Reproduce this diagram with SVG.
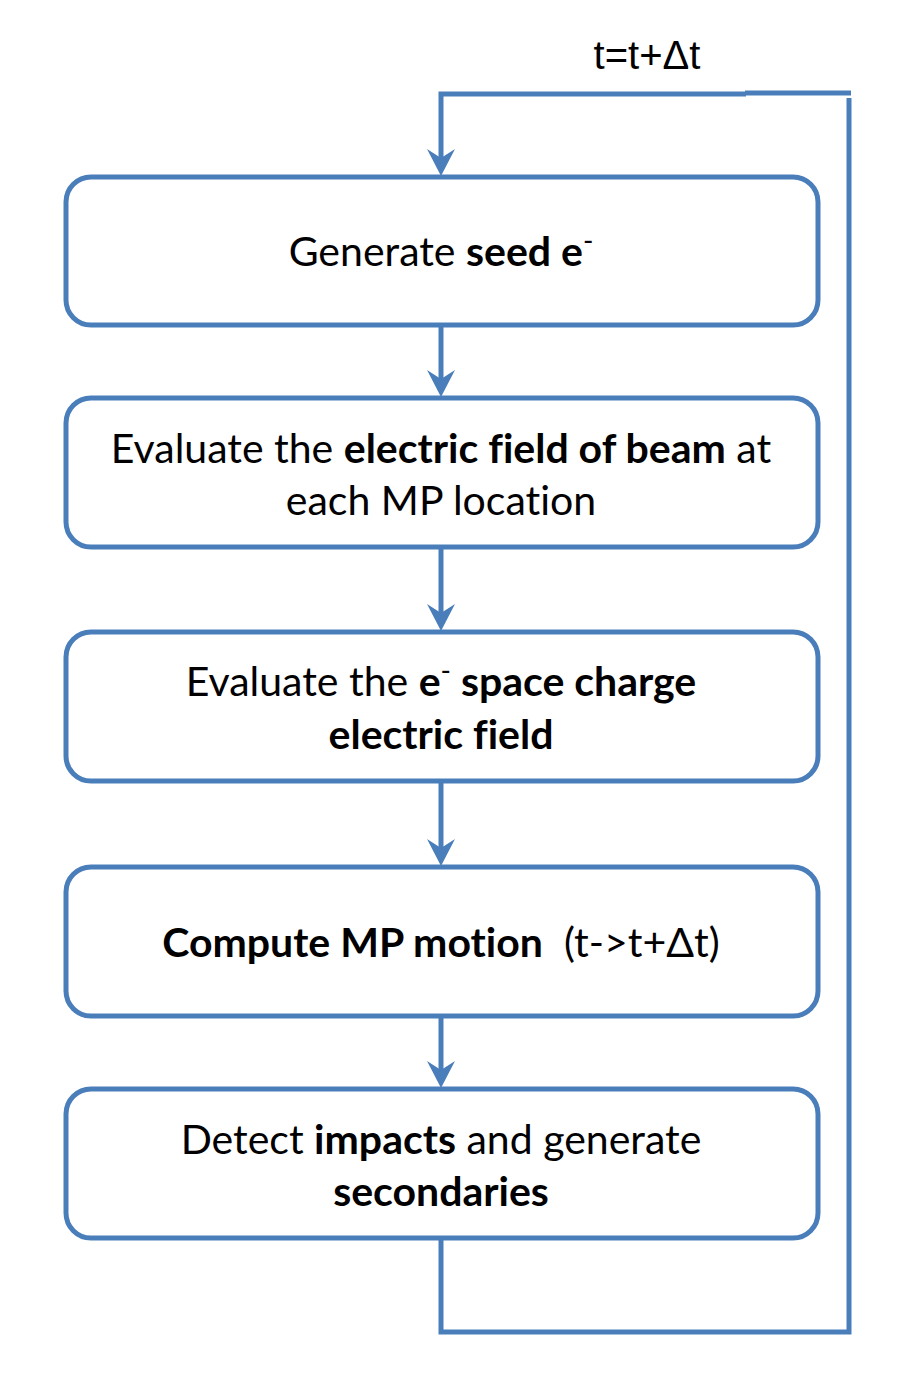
<svg xmlns="http://www.w3.org/2000/svg" width="907" height="1383" viewBox="0 0 907 1383">
<defs>
<style>
.box{fill:#fff;stroke:#4a7ebb;stroke-width:5}
.con{fill:none;stroke:#4a7ebb;stroke-width:5}
.ah{fill:#4a7ebb;stroke:none}
.t{font-family:Lato,"Open Sans",sans-serif;font-size:41px;fill:#000;text-anchor:middle;font-variant-ligatures:none}
.b{font-weight:bold}
.sup{font-size:28px}
.lbl{font-family:"Liberation Sans",Arial,sans-serif;font-size:40px;fill:#000;text-anchor:middle}
</style>
</defs>
<rect width="907" height="1383" fill="#fff"/>
<g id="connectors">
<line class="con" x1="441" y1="325" x2="441" y2="385"/>
<line class="con" x1="441" y1="547" x2="441" y2="619"/>
<line class="con" x1="441" y1="781" x2="441" y2="854"/>
<line class="con" x1="441" y1="1016" x2="441" y2="1076"/>
<path class="con" d="M441,1238 L441,1332 L849,1332 L849,98"/>
<path class="con" d="M851,93 L745,93"/>
<path class="con" d="M746,94 L441,94 L441,164"/>
<path class="ah" d="M441,176 L427,149 L441,158 L455,149 Z"/>
<path class="ah" d="M441,397 L427,370 L441,379 L455,370 Z"/>
<path class="ah" d="M441,631 L427,604 L441,613 L455,604 Z"/>
<path class="ah" d="M441,866 L427,839 L441,848 L455,839 Z"/>
<path class="ah" d="M441,1088 L427,1061 L441,1070 L455,1061 Z"/>
</g>
<text id="loop-label" class="lbl" x="647" y="69">t=t+Δt</text>
<g id="node1">
<rect class="box" x="66" y="177" width="752" height="148" rx="25"/>
<text class="t" x="441" y="266">Generate <tspan class="b">seed e</tspan><tspan class="sup" dy="-15">-</tspan></text>
</g>
<g id="node2">
<rect class="box" x="66" y="398" width="752" height="149" rx="25"/>
<text class="t" x="441" y="463">Evaluate the <tspan class="b">electric field of beam</tspan> at</text>
<text class="t" x="441" y="515">each MP location</text>
</g>
<g id="node3">
<rect class="box" x="66" y="632" width="752" height="149" rx="25"/>
<text class="t" x="441" y="696">Evaluate the <tspan class="b">e</tspan><tspan class="sup" dy="-15">-</tspan><tspan class="b" dy="15"> space charge</tspan></text>
<text class="t b" x="441" y="749">electric field</text>
</g>
<g id="node4">
<rect class="box" x="66" y="867" width="752" height="149" rx="25"/>
<text class="t" x="441" y="957" style="white-space:pre"><tspan class="b">Compute MP motion</tspan>  (t-&gt;t+Δt)</text>
</g>
<g id="node5">
<rect class="box" x="66" y="1089" width="752" height="149" rx="25"/>
<text class="t" x="441" y="1154">Detect <tspan class="b">impacts</tspan> and generate</text>
<text class="t b" x="441" y="1206">secondaries</text>
</g>
</svg>
